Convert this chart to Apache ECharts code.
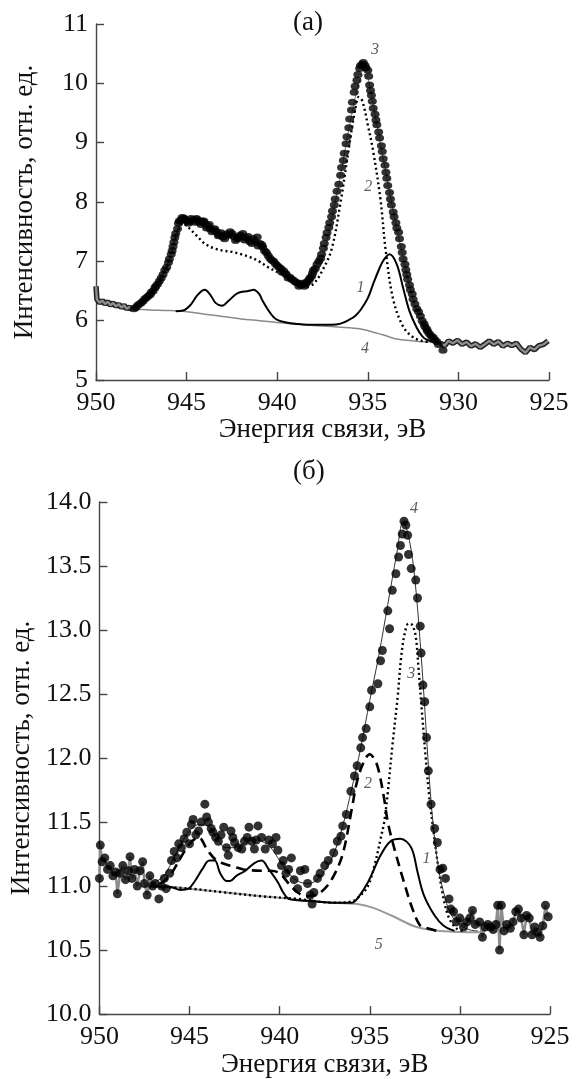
<!DOCTYPE html>
<html>
<head>
<meta charset="utf-8">
<script src="https://cdn.jsdelivr.net/npm/echarts@6/dist/echarts.min.js"></script>
<style>
  html, body { margin: 0; padding: 0; background: #fff; }
  #chart { width: 582px; height: 1079px; }
</style>
</head>
<body>
<div id="chart"></div>
<script>
// ---- panel (a) ----
const xTicks = [950, 945, 940, 935, 930, 925]
const yTicksA = [5, 6, 7, 8, 9, 10, 11]
const yTicksB = [10.0, 10.5, 11.0, 11.5, 12.0, 12.5, 13.0, 13.5, 14.0]

// raw spectrum, edge parts (drawn as a thick wavy trace)
const edgeLeftA = [
  [950.0, 6.58], [949.95, 6.36], [949.8, 6.3], [949.65, 6.34], [949.5, 6.28], [949.35, 6.32],
  [949.2, 6.26], [949.05, 6.3], [948.9, 6.24], [948.75, 6.28], [948.6, 6.22], [948.45, 6.26],
  [948.3, 6.2], [948.15, 6.23], [948.0, 6.18]
]
const edgeRightA = [
  [931.0, 5.62], [930.75, 5.58], [930.55, 5.66], [930.3, 5.62], [930.05, 5.67], [929.8, 5.6],
  [929.55, 5.64], [929.3, 5.57], [929.05, 5.61], [928.8, 5.55], [928.55, 5.6], [928.3, 5.66],
  [928.05, 5.6], [927.8, 5.65], [927.55, 5.57], [927.3, 5.62], [927.05, 5.58], [926.8, 5.62],
  [926.55, 5.52], [926.3, 5.46], [926.05, 5.55], [925.8, 5.51], [925.55, 5.58], [925.3, 5.6],
  [925.05, 5.66]
]
// raw spectrum, dots
const pointsA = [
  [947.8, 6.22], [947.6, 6.28], [947.4, 6.33], [947.2, 6.39], [947.0, 6.44], [946.85, 6.5],
  [946.7, 6.58], [946.5, 6.67], [946.3, 6.78], [946.1, 6.9], [945.95, 7.04], [945.8, 7.18],
  [945.7, 7.32], [945.6, 7.47], [945.45, 7.64], [945.3, 7.7], [945.15, 7.73], [945.0, 7.68],
  [944.8, 7.67], [944.65, 7.7], [944.45, 7.72], [944.3, 7.66], [944.15, 7.68], [944.0, 7.64],
  [943.85, 7.6], [943.7, 7.55], [943.5, 7.53], [943.35, 7.5], [943.2, 7.45], [943.0, 7.41],
  [942.8, 7.46], [942.6, 7.5], [942.4, 7.42], [942.2, 7.38], [942.05, 7.44], [941.9, 7.47],
  [941.7, 7.39], [941.5, 7.33], [941.3, 7.38], [941.1, 7.41], [940.95, 7.3], [940.8, 7.24],
  [940.6, 7.15], [940.4, 7.05], [940.2, 7.0], [940.0, 6.93], [939.8, 6.88], [939.65, 6.84],
  [939.5, 6.78], [939.3, 6.73], [939.1, 6.68], [938.9, 6.64], [938.7, 6.6], [938.55, 6.61],
  [938.4, 6.63], [938.25, 6.68], [938.1, 6.75], [938.0, 6.85], [937.8, 6.95], [937.6, 7.05],
  [937.45, 7.22], [937.3, 7.4], [937.15, 7.57], [937.0, 7.75], [936.85, 7.95], [936.7, 8.18],
  [936.5, 8.45], [936.35, 8.7], [936.2, 8.98], [936.05, 9.25], [935.9, 9.55], [935.75, 9.85],
  [935.6, 10.05], [935.45, 10.25], [935.3, 10.32], [935.15, 10.3], [935.0, 10.22], [934.9, 9.97],
  [934.8, 9.8], [934.7, 9.58], [934.55, 9.38], [934.4, 9.18], [934.25, 8.95], [934.15, 8.73],
  [934.0, 8.5], [933.9, 8.28], [933.75, 8.05], [933.6, 7.83], [933.45, 7.65], [933.3, 7.49],
  [933.15, 7.25], [933.05, 7.04], [932.9, 6.86], [932.8, 6.7], [932.65, 6.52], [932.5, 6.36],
  [932.3, 6.2], [932.1, 6.08], [931.9, 5.95], [931.75, 5.86], [931.6, 5.78], [931.4, 5.72],
  [931.2, 5.65], [930.85, 5.5]
]
// more dots in between (the band in the picture is dense)
const pointsA2 = [
  [947.9, 6.2], [947.7, 6.26], [947.5, 6.3], [947.3, 6.37], [947.1, 6.42], [946.95, 6.48],
  [946.75, 6.55], [946.6, 6.62], [946.4, 6.72], [946.2, 6.85], [946.0, 6.98], [945.85, 7.12],
  [945.75, 7.25], [945.65, 7.4], [945.5, 7.55], [945.4, 7.68], [945.25, 7.74], [945.05, 7.7],
  [944.9, 7.64], [944.75, 7.72], [944.55, 7.66], [944.4, 7.7], [944.2, 7.62], [944.05, 7.68],
  [943.9, 7.56], [943.75, 7.62], [943.6, 7.5], [943.45, 7.55], [943.25, 7.43], [943.1, 7.48],
  [942.9, 7.38], [942.7, 7.44], [942.5, 7.47], [942.3, 7.35], [942.15, 7.4], [941.95, 7.42],
  [941.8, 7.36], [941.6, 7.42], [941.4, 7.3], [941.2, 7.33], [941.05, 7.26], [940.85, 7.28],
  [940.7, 7.18], [940.5, 7.1], [940.3, 7.02], [940.1, 6.96], [939.9, 6.9], [939.75, 6.82],
  [939.55, 6.8], [939.4, 6.72], [939.2, 6.7], [939.0, 6.65], [938.8, 6.58], [938.65, 6.63],
  [938.5, 6.58], [938.35, 6.66], [938.2, 6.72], [938.05, 6.8], [937.9, 6.88], [937.7, 7.0],
  [937.55, 7.12], [937.4, 7.3], [937.25, 7.48], [937.1, 7.65], [936.95, 7.85], [936.8, 8.05],
  [936.6, 8.3], [936.45, 8.58], [936.3, 8.82], [936.15, 9.1], [936.0, 9.4], [935.85, 9.68],
  [935.7, 9.95], [935.55, 10.15], [935.4, 10.3], [935.25, 10.35], [935.1, 10.26], [934.95, 10.12],
  [934.85, 9.88], [934.75, 9.7], [934.6, 9.48], [934.5, 9.3], [934.35, 9.08], [934.2, 8.85],
  [934.05, 8.62], [933.95, 8.4], [933.8, 8.16], [933.7, 7.95], [933.55, 7.75], [933.4, 7.56],
  [933.25, 7.38], [933.1, 7.15], [932.95, 6.95], [932.85, 6.78], [932.7, 6.6], [932.55, 6.45],
  [932.4, 6.28], [932.2, 6.15], [932.0, 6.0], [931.85, 5.9], [931.7, 5.82], [931.5, 5.74],
  [931.3, 5.68], [931.1, 5.6]
]
// 3: envelope
const fitA = [
  [948.0, 6.2], [947.5, 6.3], [947.0, 6.45], [946.5, 6.67], [946.0, 6.98], [945.5, 7.55],
  [945.2, 7.68], [945.0, 7.68], [944.5, 7.66], [944.0, 7.6], [943.5, 7.5], [943.0, 7.42],
  [942.5, 7.42], [942.0, 7.4], [941.5, 7.36], [941.0, 7.3], [940.5, 7.1], [940.0, 6.92],
  [939.5, 6.78], [939.0, 6.66], [938.5, 6.6], [938.0, 6.7], [937.5, 7.05], [937.0, 7.7],
  [936.5, 8.45], [936.0, 9.3], [935.5, 10.0], [935.2, 10.15], [935.0, 10.1], [934.5, 9.3],
  [934.0, 8.5], [933.5, 7.7], [933.0, 7.0], [932.5, 6.35], [932.0, 5.95], [931.5, 5.72],
  [931.0, 5.64]
]
// 2: dotted component
const compA2 = [
  [948.0, 6.2], [947.5, 6.28], [947.0, 6.42], [946.5, 6.65], [946.0, 6.98], [945.5, 7.5],
  [945.2, 7.64], [945.0, 7.6], [944.5, 7.45], [944.0, 7.3], [943.5, 7.22], [943.0, 7.18],
  [942.5, 7.16], [942.0, 7.12], [941.5, 7.07], [941.0, 7.0], [940.5, 6.9], [940.0, 6.82],
  [939.5, 6.74], [939.0, 6.65], [938.5, 6.57], [938.0, 6.62], [937.5, 6.85], [937.0, 7.2],
  [936.5, 8.0], [936.0, 9.0], [935.7, 9.55], [935.5, 9.77], [935.3, 9.7], [935.0, 9.3],
  [934.7, 8.85], [934.3, 8.04], [934.0, 7.15], [933.6, 6.36], [933.05, 5.9], [932.5, 5.72],
  [932.0, 5.66], [931.5, 5.64]
]
// 1: solid component
const compA1 = [
  [945.6, 6.16], [945.2, 6.17], [944.8, 6.26], [944.4, 6.43], [944.0, 6.52], [943.7, 6.44],
  [943.4, 6.3], [943.05, 6.25], [942.7, 6.33], [942.3, 6.44], [942.05, 6.48], [941.6, 6.5],
  [941.3, 6.52], [941.0, 6.45], [940.8, 6.33], [940.5, 6.18], [940.2, 6.06], [939.9, 6.0],
  [939.5, 5.97], [939.0, 5.95], [938.0, 5.93], [937.0, 5.93], [936.5, 5.95], [936.0, 6.02],
  [935.7, 6.08], [935.4, 6.18], [935.0, 6.38], [934.7, 6.62], [934.4, 6.85], [934.15, 7.01],
  [933.8, 7.12], [933.4, 6.95], [933.05, 6.55], [932.7, 6.16], [932.3, 5.88], [932.0, 5.74],
  [931.75, 5.68], [931.4, 5.65]
]
// 4: background
const bgA = [
  [948.0, 6.2], [947.0, 6.18], [946.0, 6.17], [945.0, 6.15], [944.0, 6.11], [943.0, 6.07],
  [942.0, 6.03], [941.0, 6.0], [940.0, 5.97], [939.0, 5.94], [938.0, 5.92], [937.0, 5.9],
  [936.0, 5.88], [935.25, 5.85], [934.5, 5.79], [933.95, 5.74], [933.4, 5.69], [932.85, 5.67],
  [932.2, 5.65], [931.5, 5.64], [931.0, 5.63]
]
const tagsA = [[934.6, 10.57, '3'], [934.97, 8.26, '2'], [935.4, 6.56, '1'], [935.15, 5.53, '4']]

// ---- panel (б) ----
const edgeLeftB = [
  [950.0, 11.06], [949.95, 11.32], [949.85, 11.19], [949.7, 11.22], [949.55, 11.13], [949.4, 11.16],
  [949.25, 11.08], [949.1, 11.11], [949.0, 10.94], [948.85, 11.1], [948.7, 11.16], [948.55, 11.05],
  [948.4, 11.12], [948.3, 11.23], [948.2, 11.06], [948.05, 11.13], [947.9, 11.0], [947.75, 11.12],
  [947.6, 11.19], [947.5, 11.02], [947.35, 10.93], [947.2, 11.08], [947.05, 11.0], [946.9, 11.02]
]
const edgeRightB = [
  [930.5, 10.82], [930.35, 10.8], [930.2, 10.72], [930.0, 10.75], [929.8, 10.68], [929.6, 10.72],
  [929.45, 10.75], [929.3, 10.81], [929.15, 10.7], [928.9, 10.72], [928.75, 10.6], [928.6, 10.68],
  [928.45, 10.7], [928.3, 10.68], [928.15, 10.66], [928.0, 10.7], [927.9, 10.85], [927.8, 10.5],
  [927.7, 10.85], [927.55, 10.65], [927.4, 10.7], [927.2, 10.67], [927.05, 10.72], [926.9, 10.8],
  [926.75, 10.82], [926.6, 10.75], [926.45, 10.62], [926.3, 10.77], [926.15, 10.75], [926.0, 10.62],
  [925.85, 10.68], [925.7, 10.64], [925.55, 10.6], [925.4, 10.69], [925.25, 10.85], [925.1, 10.76]
]
const pointsB = [
  [946.7, 10.9], [946.55, 11.0], [946.4, 11.06], [946.3, 10.98], [946.1, 11.1], [946.0, 11.2],
  [945.85, 11.27], [945.7, 11.22], [945.6, 11.33], [945.45, 11.3], [945.3, 11.37], [945.15, 11.42],
  [945.0, 11.33], [944.9, 11.48], [944.8, 11.52], [944.65, 11.4], [944.5, 11.43], [944.35, 11.5],
  [944.15, 11.64], [944.05, 11.54], [943.95, 11.5], [943.8, 11.45], [943.7, 11.42], [943.55, 11.38],
  [943.4, 11.35], [943.25, 11.4], [943.1, 11.46], [942.95, 11.3], [942.85, 11.24], [942.7, 11.43],
  [942.6, 11.38], [942.5, 11.34], [942.3, 11.3], [942.1, 11.29], [941.95, 11.35], [941.8, 11.38],
  [941.7, 11.46], [941.55, 11.35], [941.4, 11.29], [941.3, 11.36], [941.2, 11.47], [941.0, 11.38],
  [940.8, 11.29], [940.6, 11.36], [940.4, 11.33], [940.2, 11.38], [940.1, 11.28], [939.9, 11.16],
  [939.8, 11.2], [939.65, 11.1], [939.5, 11.13], [939.35, 11.22], [939.2, 11.05], [939.0, 10.98],
  [938.85, 11.12], [938.6, 11.13], [938.45, 11.02], [938.3, 10.93], [938.2, 10.86], [938.1, 10.95],
  [937.9, 11.06], [937.75, 11.1], [937.5, 11.16], [937.3, 11.2], [937.0, 11.26], [936.8, 11.35],
  [936.6, 11.39], [936.5, 11.47], [936.3, 11.56], [936.05, 11.74], [935.85, 11.86], [935.7, 11.94],
  [935.5, 12.08], [935.4, 12.16], [935.2, 12.23], [935.0, 12.4], [934.9, 12.53], [934.55, 12.58],
  [934.4, 12.76], [934.3, 12.84], [934.0, 13.15], [933.9, 13.01], [933.75, 13.31], [933.55, 13.44],
  [933.4, 13.57], [933.3, 13.66], [933.2, 13.75], [933.1, 13.85], [933.0, 13.82], [932.9, 13.74],
  [932.85, 13.59], [932.7, 13.48], [932.45, 13.39], [932.35, 13.25], [932.2, 13.03], [932.15, 12.82],
  [932.05, 12.57], [931.95, 12.44], [931.85, 12.16], [931.75, 11.9], [931.6, 11.64], [931.4, 11.45],
  [931.25, 11.34], [931.1, 11.13], [930.95, 11.14], [930.8, 11.06], [930.6, 10.9]
]
// 4: envelope
const fitB = [
  [947.5, 11.02], [947.0, 11.03], [946.5, 11.07], [946.0, 11.18], [945.5, 11.32], [945.0, 11.43],
  [944.5, 11.48], [944.0, 11.47], [943.5, 11.38], [943.0, 11.3], [942.5, 11.3], [942.0, 11.33],
  [941.5, 11.36], [941.0, 11.35], [940.5, 11.3], [940.0, 11.2], [939.5, 11.1], [939.0, 11.04],
  [938.5, 11.02], [938.0, 11.04], [937.5, 11.12], [937.0, 11.25], [936.5, 11.47], [936.0, 11.76],
  [935.5, 12.08], [935.0, 12.45], [934.5, 12.8], [934.0, 13.2], [933.5, 13.6], [933.15, 13.85],
  [932.8, 13.7], [932.5, 13.4], [932.2, 12.9], [932.0, 12.5], [931.75, 11.95], [931.5, 11.5],
  [931.2, 11.15], [930.9, 10.95], [930.5, 10.78], [930.0, 10.7], [929.5, 10.66], [929.0, 10.65]
]
// 2: dashed component
const compB2 = [
  [947.5, 11.0], [947.0, 11.0], [946.5, 11.03], [946.0, 11.1], [945.5, 11.22], [945.0, 11.33],
  [944.5, 11.38], [944.0, 11.28], [943.5, 11.2], [943.0, 11.17], [942.5, 11.15], [942.0, 11.13],
  [941.0, 11.12], [940.5, 11.12], [940.0, 11.1], [939.5, 11.02], [939.0, 10.95], [938.5, 10.92],
  [938.0, 10.93], [937.5, 10.98], [937.0, 11.08], [936.5, 11.25], [936.0, 11.6], [935.7, 11.82],
  [935.3, 11.98], [935.0, 12.03], [934.7, 11.98], [934.5, 11.9], [934.2, 11.68], [934.0, 11.5],
  [933.65, 11.3], [933.1, 11.03], [932.65, 10.83], [932.2, 10.69], [931.8, 10.67], [931.3, 10.65]
]
// 3: dotted component
const compB3 = [
  [947.5, 11.0], [945.0, 10.98], [943.0, 10.95], [941.0, 10.92], [939.0, 10.9], [937.0, 10.87],
  [936.0, 10.88], [935.5, 10.93], [935.1, 11.0], [934.7, 11.18], [934.4, 11.37], [934.2, 11.5],
  [934.0, 11.73], [933.75, 12.09], [933.45, 12.48], [933.25, 12.8], [933.05, 12.98], [932.85, 13.05],
  [932.65, 13.04], [932.45, 12.95], [932.3, 12.71], [932.1, 12.35], [931.9, 12.01], [931.7, 11.7],
  [931.5, 11.47], [931.2, 11.15], [930.9, 10.9], [930.6, 10.75], [930.2, 10.67], [929.8, 10.65]
]
// 1: solid component
const compB1 = [
  [947.5, 11.0], [946.0, 10.99], [945.5, 10.97], [945.05, 10.98], [944.7, 11.04], [944.3, 11.13],
  [943.9, 11.2], [943.6, 11.2], [943.3, 11.1], [942.95, 11.04], [942.75, 11.04], [942.4, 11.08],
  [941.9, 11.12], [941.4, 11.18], [941.0, 11.2], [940.6, 11.13], [940.1, 11.03], [939.8, 10.95],
  [939.5, 10.9], [939.0, 10.89], [938.0, 10.88], [937.0, 10.87], [936.0, 10.87], [935.7, 10.9],
  [935.1, 11.03], [934.4, 11.24], [933.85, 11.35], [933.3, 11.37], [932.7, 11.3], [932.35, 11.11],
  [932.0, 10.93], [931.4, 10.77], [930.9, 10.69], [930.3, 10.65]
]
// 5: background
const bgB = [
  [947.5, 11.0], [946.7, 11.0], [945.0, 10.98], [943.0, 10.95], [941.0, 10.92], [939.35, 10.9],
  [937.0, 10.87], [935.7, 10.86], [934.8, 10.83], [933.8, 10.77], [932.4, 10.68], [931.1, 10.65],
  [928.7, 10.64]
]
const tagsB = [[932.55, 13.95, '4'], [932.7, 12.66, '3'], [935.1, 11.8, '2'], [931.85, 11.21, '1'], [934.5, 10.54, '5']]

const serif = '"Liberation Serif", "DejaVu Serif", serif'

const xAxisBase = (gridIndex) => ({
  type: 'value',
  gridIndex,
  inverse: true,
  min: 925,
  max: 950,
  interval: 5,
  name: 'Энергия связи, эВ',
  nameLocation: 'middle',
  nameGap: 32,
  nameTextStyle: { fontFamily: serif, fontSize: 27, color: '#111' },
  axisLine: { lineStyle: { color: '#444', width: 1.4 } },
  axisTick: { inside: true, length: 8, lineStyle: { color: '#444', width: 1.4 } },
  axisLabel: { fontFamily: serif, fontSize: 26, color: '#111', margin: 10 },
  splitLine: { show: false }
})

const yAxisBase = (gridIndex, ticks, digits) => ({
  type: 'value',
  gridIndex,
  min: ticks[0],
  max: ticks[ticks.length - 1],
  interval: ticks[1] - ticks[0],
  name: 'Интенсивность, отн. ед.',
  nameLocation: 'middle',
  nameGap: 58,
  nameTextStyle: { fontFamily: serif, fontSize: 27, color: '#111' },
  axisLine: { show: true, lineStyle: { color: '#444', width: 1.4 } },
  axisTick: { show: true, inside: true, length: 8, lineStyle: { color: '#444', width: 1.4 } },
  axisLabel: {
    fontFamily: serif, fontSize: 26, color: '#111', margin: 8,
    formatter: v => v.toFixed(digits)
  },
  splitLine: { show: false }
})

const line = (idx, data, color, width, type, extra) => Object.assign({
  type: 'line',
  xAxisIndex: idx,
  yAxisIndex: idx,
  data,
  smooth: 0.35,
  showSymbol: false,
  symbol: 'none',
  lineStyle: { color, width, type },
  z: 3
}, extra || {})

const dots = (idx, data, size) => ({
  type: 'scatter',
  xAxisIndex: idx,
  yAxisIndex: idx,
  data,
  symbol: 'circle',
  symbolSize: size,
  itemStyle: { color: '#000' },
  z: 5
})

const tags = (idx, list) => ({
  type: 'scatter',
  xAxisIndex: idx,
  yAxisIndex: idx,
  data: list.map(t => ({ value: [t[0], t[1]], name: t[2] })),
  symbolSize: 0,
  label: {
    show: true,
    position: 'inside',
    formatter: p => p.name,
    fontFamily: serif,
    fontStyle: 'italic',
    fontSize: 16,
    color: '#333'
  },
  z: 10
})

const chart = echarts.init(document.getElementById('chart'))
chart.setOption({
  animation: false,
  backgroundColor: '#fff',
  grid: [
    { left: 96, top: 24, width: 453, height: 356 },
    { left: 97, top: 502, width: 453, height: 516 }
  ],
  xAxis: [xAxisBase(0), xAxisBase(1)],
  yAxis: [yAxisBase(0, yTicksA, 0), yAxisBase(1, yTicksB, 1)],
  graphic: [
    { type: 'text', left: 293, top: 9, style: { text: '(a)', font: '27px ' + serif, fill: '#111' } },
    { type: 'text', left: 293, top: 458, style: { text: '(б)', font: '27px ' + serif, fill: '#111' } }
  ],
  series: [
    // (a)
    line(0, bgA, '#8a8a8a', 1.5, 'solid'),
    line(0, compA1, '#000', 2, 'solid'),
    line(0, compA2, '#000', 2.4, [2, 3]),
    line(0, fitA, '#6f84a6', 1, 'solid'),
    line(0, edgeLeftA, '#222', 5.5, 'solid', { smooth: false, z: 4 }),
    line(0, edgeLeftA, '#8d8d8d', 2.4, 'solid', { smooth: false, z: 4 }),
    line(0, edgeRightA, '#222', 5.5, 'solid', { smooth: false, z: 4 }),
    line(0, edgeRightA, '#8d8d8d', 2.4, 'solid', { smooth: false, z: 4 }),
    dots(0, pointsA, [9, 7]),
    dots(0, pointsA2, [9, 7]),
    tags(0, tagsA),
    // (б)
    line(1, bgB, '#9a9a9a', 2, 'solid'),
    line(1, compB1, '#000', 2, 'solid'),
    line(1, compB2, '#000', 2.6, [10, 6]),
    line(1, compB3, '#000', 2.4, [2, 3]),
    line(1, fitB, '#333', 1, 'solid'),
    line(1, edgeLeftB, '#8d8d8d', 2.5, 'solid', { smooth: false, z: 4 }),
    line(1, edgeRightB, '#8d8d8d', 2.5, 'solid', { smooth: false, z: 4 }),
    dots(1, edgeLeftB, 9),
    dots(1, edgeRightB, 9),
    dots(1, pointsB, 9),
    tags(1, tagsB)
  ]
})
</script>
</body>
</html>
